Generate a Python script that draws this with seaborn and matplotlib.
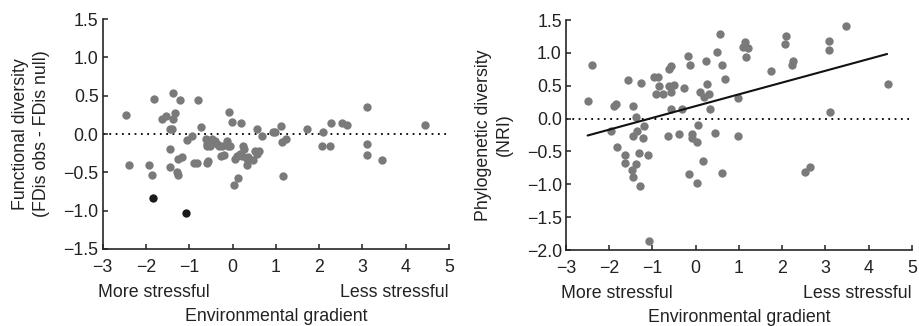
import numpy as np
import pandas as pd
import seaborn as sns
import matplotlib.pyplot as plt

# left panel: functional diversity (FDis obs - FDis null)
fd_x = [-2.46, -2.39, -1.81, -1.94, -1.87, -1.64, -1.54, -1.38, -1.33, -1.37,
        -1.45, -1.41, -1.45, -1.45, -1.21, -1.28, -1.25, -1.25, -1.18, -0.81,
        -0.74, -1.06, -0.94, -0.89, -0.83, -0.58, -0.56, -0.61, -0.58, -0.60,
        -0.48, -0.41, -0.52, -0.37, -0.27, -0.20, -0.31, -0.25, -0.14, -0.10,
        -0.06, -0.08, -0.01, 0.20, 0.06, 0.10, 0.03, 0.13, 0.25, 0.26,
        0.17, 0.21, 0.33, 0.34, 0.46, 0.36, 0.57, 0.52, 0.62, 0.56,
        0.67, 0.94, 0.99, 1.11, 1.16, 1.13, 1.23, 1.73, 2.09, 2.07,
        2.25, 2.27, 2.52, 2.65, 3.11, 3.11, 3.11, 3.46, 4.45]
fd_y = [0.25, -0.40, 0.46, -0.41, -0.54, 0.20, 0.24, 0.53, 0.27, 0.20,
        0.06, 0.06, -0.19, -0.43, 0.44, -0.49, -0.54, -0.32, -0.30, 0.45,
        0.09, -0.08, -0.02, -0.38, -0.38, -0.38, -0.35, -0.07, -0.13, -0.16,
        -0.07, -0.09, -0.15, -0.13, -0.29, -0.27, -0.16, -0.16, -0.09, -0.15,
        -0.16, 0.29, 0.16, 0.14, -0.33, -0.29, -0.66, -0.57, -0.15, -0.20,
        -0.26, -0.29, -0.33, -0.41, -0.34, -0.30, 0.06, -0.22, -0.22, -0.26,
        -0.02, 0.02, 0.03, 0.11, -0.55, -0.10, -0.07, 0.06, 0.02, -0.16,
        -0.16, 0.14, 0.14, 0.12, 0.35, -0.13, -0.27, -0.34, 0.12]
# two outliers drawn in black
fd_out_x = [-1.85, -1.08]
fd_out_y = [-0.83, -1.03]

# right panel: phylogenetic diversity (NRI)
nri_x = [-2.48, -2.40, -1.96, -1.88, -1.85, -1.83, -1.64, -1.64, -1.56, -1.48,
         -1.46, -1.46, -1.44, -1.39, -1.39, -1.35, -1.30, -1.29, -1.27, -1.23,
         -1.19, -1.11, -1.08, -0.96, -0.92, -0.86, -0.84, -0.75, -0.65, -0.62,
         -0.58, -0.61, -0.58, -0.58, -0.50, -0.39, -0.31, -0.28, -0.18, -0.16,
         -0.13, -0.08, -0.08, 0.02, 0.02, 0.05, 0.10, 0.16, 0.20, 0.24,
         0.26, 0.31, 0.33, 0.45, 0.49, 0.56, 0.60, 0.60, 0.67, 0.97,
         0.97, 1.10, 1.14, 1.16, 1.22, 1.74, 2.07, 2.09, 2.22, 2.26,
         2.53, 2.65, 3.09, 3.09, 3.10, 3.48, 4.46]
nri_y = [0.27, 0.81, -0.19, 0.19, 0.22, -0.43, -0.56, -0.67, 0.58, -0.79,
         -0.89, -0.27, 0.19, 0.02, -0.69, -0.19, -0.52, -1.02, 0.54, -0.29,
         -0.11, -0.55, -1.86, 0.63, 0.37, 0.63, 0.49, 0.37, -0.27, 0.75,
         0.80, 0.49, 0.41, 0.15, 0.51, -0.23, 0.15, 0.47, 0.95, -0.85,
         0.81, -0.23, -0.29, -0.36, -0.98, -0.10, 0.41, -0.65, 0.33, 0.87,
         0.52, 0.37, 0.15, -0.22, 1.01, 1.28, 0.82, -0.83, 0.61, 0.32,
         -0.27, 1.09, 1.17, 0.94, 1.08, 0.72, 1.14, 1.25, 0.82, 0.88,
         -0.81, -0.74, 1.18, 1.04, 0.10, 1.41, 0.53]
# fitted regression line
fit_range = [-2.5, 4.43]
fit_slope = 0.179
fit_intercept = 0.19

df_fd = pd.DataFrame({'x': fd_x, 'y': fd_y})
df_fd_out = pd.DataFrame({'x': fd_out_x, 'y': fd_out_y})
df_nri = pd.DataFrame({'x': nri_x, 'y': nri_y})

sns.set_style('ticks')
plt.rcParams['font.family'] = ['Liberation Sans', 'DejaVu Sans']
plt.rcParams['axes.linewidth'] = 1.2
fs = 12.8
tc = '#222222'

grey = '#7a7a7a'
fig = plt.figure(figsize=(9.19, 3.26), dpi=100)
ax1 = fig.add_axes([0.1118, 0.2362, 0.3768, 0.7055])
ax2 = fig.add_axes([0.6159, 0.2331, 0.3762, 0.7055])

sns.scatterplot(data=df_fd, x='x', y='y', ax=ax1, color=grey, s=36, linewidth=0)
sns.scatterplot(data=df_fd_out, x='x', y='y', ax=ax1, color='#1a1a1a', s=36, linewidth=0)
sns.scatterplot(data=df_nri, x='x', y='y', ax=ax2, color=grey, s=36, linewidth=0)

lx = np.array(fit_range)
ax2.plot(lx, fit_intercept + fit_slope * lx, color='#111111', lw=1.5)

for ax, ylim, yticks in [(ax1, (-1.5, 1.5), np.arange(-1.5, 1.51, 0.5)),
                         (ax2, (-2.0, 1.5), np.arange(-2.0, 1.51, 0.5))]:
    ax.axhline(0, color='black', ls=(0, (1, 2.5)), lw=1.3, zorder=0)
    ax.set_xlim(-3, 5)
    ax.set_ylim(*ylim)
    ax.set_xticks(range(-3, 6))
    ax.set_xticklabels([str(v).replace('-', '\u2212') for v in range(-3, 6)])
    ax.set_yticks(yticks)
    ax.set_yticklabels([f'{v:.1f}'.replace('-', '\u2212') for v in yticks])
    ax.tick_params(direction='in', length=3.5, width=1.1, labelsize=fs, colors=tc)
    ax.tick_params(axis='x', pad=7)
    ax.tick_params(axis='y', pad=3)
    sns.despine(ax=ax)
    ax.set_xlabel('')
    ax.text(-0.014, -0.19, 'More stressful', transform=ax.transAxes, ha='left', va='center', fontsize=fs, color=tc)
    ax.text(1.0, -0.19, 'Less stressful', transform=ax.transAxes, ha='right', va='center', fontsize=fs, color=tc)
    ax.text(0.5, -0.295, 'Environmental gradient', transform=ax.transAxes, ha='center', va='center', fontsize=fs, color=tc)

ax1.set_ylabel('Functional diversity\n(FDis obs - FDis null)', fontsize=fs, color=tc, linespacing=1.3)
ax1.yaxis.set_label_coords(-0.152, 0.5)
ax2.set_ylabel('Phylogenetic diversity\n(NRI)', fontsize=fs, color=tc, linespacing=1.3)
ax2.yaxis.set_label_coords(-0.153, 0.5)

fig.savefig('out.png', dpi=100)
